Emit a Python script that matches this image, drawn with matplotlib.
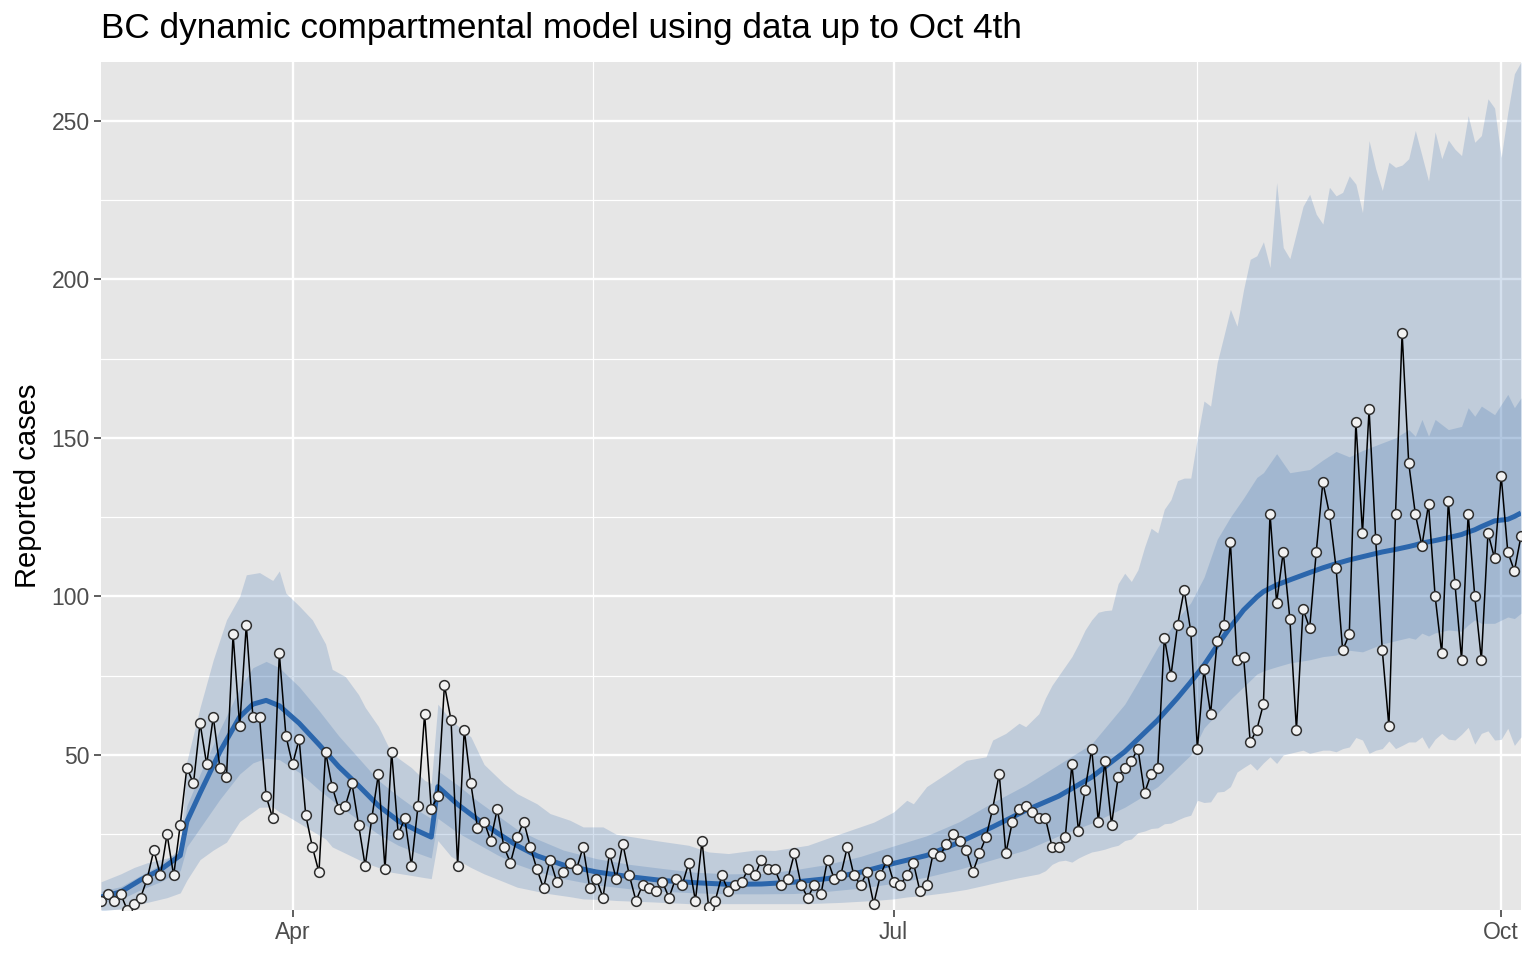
import numpy as np
import pandas as pd
import matplotlib
matplotlib.use('Agg')
import matplotlib.pyplot as plt
import matplotlib.dates as mdates

plt.rcParams['font.family'] = ['Liberation Sans', 'DejaVu Sans']

start = pd.Timestamp('2020-03-03')

# daily reported cases from Mar 3 to Oct 4
cases = [4, 6, 4, 6, 1, 3, 5, 11, 20, 12, 25, 12, 28, 46, 41, 60, 47, 62, 46, 43,
         88, 59, 91, 62, 62, 37, 30, 82, 56, 47, 55, 31, 21, 13, 51, 40, 33, 34, 41, 28,
         15, 30, 44, 14, 51, 25, 30, 15, 34, 63, 33, 37,
         72, 61, 15, 58, 41, 27, 29, 23, 33, 21, 16, 24, 29, 21, 14, 8, 17, 10, 13, 16,
         14, 21, 8, 11, 5, 19, 11, 22, 12, 4, 9, 8, 7, 10, 5, 11, 9, 16, 4, 23,
         2, 4, 12, 7, 9, 10, 14, 12, 17,
         14, 14, 9, 11, 19, 9, 5, 9, 6, 17, 11, 12, 21, 12, 9, 13, 3, 12, 17, 10,
         9, 12, 16, 7, 9, 19, 18, 22, 25, 23, 20, 13, 19, 24, 33, 44, 19, 29, 33, 34,
         32, 30, 30, 21, 21, 24, 47, 26,
         39, 52, 29, 48, 28, 43, 46, 48, 52, 38, 44, 46, 87, 75, 91, 102, 89, 52, 77, 63,
         86, 91, 117, 80, 81, 54, 58, 66, 126, 98, 114, 93, 58, 96, 90,
         114, 136, 126, 109, 83, 88, 155, 120, 159, 118, 83, 59, 126, 183, 142, 126, 116, 129, 100, 82,
         130, 104, 80, 126, 100, 80, 120, 112, 138, 114, 108, 119]

# model mean and 50% interval (days since Mar 3)
model_day = [0, 3, 6, 9, 12, 13, 15, 18, 21, 23, 25, 27, 30, 33, 36, 39, 42, 45, 48, 50,
             51, 54, 57, 60, 63, 66, 70, 75, 80, 85, 90, 95, 100, 105, 110, 115, 120, 125, 130, 135,
             140, 145, 150, 155, 157, 160, 163, 165, 167, 169, 171, 173, 175, 176, 178, 180,
             183, 185, 187, 189, 191, 194, 196, 198, 199, 200, 201, 202, 204, 206, 207, 208, 209, 211,
             213, 214, 215]
model_mean = [5.2, 6.8, 10.6, 13.8, 18.3, 29, 38, 51, 62, 66, 67.2, 65.5, 60, 53.3, 46.3, 40.3, 34, 29.2, 26, 24.1,
              40, 34.4, 29.7, 25.4, 21.4, 18.2, 15.3, 13.1, 11.6, 10.4, 9.7, 9.2, 9.3, 9.9, 11, 13, 15.8, 18.3, 22.5, 27.3,
              32.5, 37, 43, 51, 55, 61, 68, 73, 78.3, 84.5, 90.3, 95.7, 99.8, 101.5, 103.6, 105.2,
              107.5, 109, 110.3, 111.5, 112.5, 114, 114.8, 115.7, 116.2, 116.8, 117.2, 117.6, 118.5, 119.5, 120.3, 121, 122, 123.8,
              124.3, 125.2, 126.3]
model_lo50 = [3.5, 4.5, 7.5, 10, 13.5, 21, 27, 36, 44, 47.5, 49, 48.5, 44.5, 39, 34, 29.5, 25, 21.5, 19, 17.5,
              30, 25.5, 22, 18.5, 15.5, 13.3, 11, 9, 7.8, 7, 6.5, 6.2, 6.2, 6.3, 7, 8, 9.5, 11.5, 14, 17,
              20, 24.5, 28.5, 33.5, 36, 40, 46, 50, 58.5, 63, 67.5, 71.5, 75.5, 76.5, 77.8, 79,
              80, 81, 81.5, 83, 82.5, 85, 86, 87, 86.5, 88.4, 87.5, 88.5, 89.4, 89, 91, 92.6, 91.5, 91.5,
              93.5, 93, 94.7]
model_hi50 = [7, 8.5, 12, 15.5, 20.5, 34, 44, 58, 71, 77.5, 79.5, 77.5, 71.5, 64, 56, 49, 42, 37, 32.5, 30,
              45, 40.5, 35.5, 31, 26.5, 23.5, 20, 17.3, 15.5, 14.2, 13, 12.5, 12.6, 13.8, 15.5, 18, 21.3, 24.5, 29, 35,
              40.5, 47, 53.5, 66, 73, 84, 93, 98, 106, 118, 125, 131, 137.5, 139, 145, 139,
              140, 143, 145.7, 144, 146, 148.4, 150, 152.6, 150.5, 155.8, 150.5, 155.8, 152.6, 153.6, 159.5, 156.8, 160, 157.3,
              163.7, 159.5, 162.6]

# 95% interval (days since Mar 3)
outer_day = [0, 3, 5, 7, 10, 12, 13, 15, 17, 19, 21, 22, 24, 26, 27, 28, 30, 32, 34, 35,
             37, 39, 40, 42, 44, 47, 49, 50, 51, 53, 56, 58, 61, 63, 66, 68, 71, 73, 76, 78,
             84, 89, 92, 95, 99, 102, 107, 112, 117, 120, 122, 123, 125, 128, 131, 134, 135, 137, 139, 140,
             142, 143] + list(range(144, 216))
model_hi95 = [10, 12.5, 14.5, 16, 17.5, 19.5, 48, 65, 80, 92.6, 100, 106.8, 107.5, 105, 108, 101, 97, 92.6, 85, 77,
              74.7, 69, 65, 59, 50.5, 46, 42, 41, 66, 61, 55.7, 47, 41, 37.8, 34.6, 31.5, 29.4, 27.3, 27.3, 25,
              23, 21.5, 19.4, 18.9, 20, 19.9, 21.5, 25.2, 28.8, 32, 35.7, 34.6, 40, 44.1, 48.3, 49.4, 54.7, 56.8, 60, 58.9,
              63, 68,
              72, 75, 78, 81, 85, 89.4, 92.6, 95, 95.5, 95.7,
              104, 107.3, 104.7, 108.4, 115.5, 121.5, 120, 127.5, 130.5, 136.5,
              137.3, 137.3, 150, 161.6, 160, 173.7, 182, 190.5, 185.2, 196.8,
              206.3, 207.4, 211.8, 203.7, 230.5, 210, 206.5, 214.7, 223, 226.8,
              220.5, 217.4, 229, 226.3, 227.4, 232.6, 230, 221, 243.7, 234.8,
              228, 236.9, 235.3, 236, 238, 246.9, 239, 231, 246.5, 238,
              243.9, 241, 239, 251.6, 243.2, 245.3, 256.9, 254, 238.4, 252.6,
              264.8, 268.5]
model_lo95 = [0.8, 1.5, 2.5, 3.5, 5, 6.5, 10.5, 17, 20, 22.5, 29, 30.5, 33.5, 33.6, 32, 31, 28.5, 26, 23.5, 21,
              19, 17, 16, 14.5, 13, 12, 11.3, 11, 23, 18, 14.5, 12.5, 10, 8.3, 7, 6.2, 5.3, 4.6, 4.4, 4.1,
              3.6, 3.1, 3.1, 3.1, 3.1, 3.1, 3.1, 3.5, 4.1, 4.6, 5.2, 5.4, 5.8, 6.6, 7.6, 9, 9.5, 10.4, 11.3, 11.7,
              12.5, 13.5,
              15.5, 16.5, 16.8, 16.2, 17.5, 18.5, 19.4, 19.8, 20.3, 21,
              21.5, 23, 23.5, 25.5, 26, 26.8, 27, 28.3, 28.5, 29.5,
              30.4, 31, 35.7, 35, 35.2, 38.3, 38.5, 40, 44.6, 46,
              47.3, 45.2, 47.5, 49.4, 47.3, 50, 50.5, 51, 51.5, 50.5,
              51, 51.5, 51.5, 51, 52, 52.5, 55.5, 54.7, 50.5, 51.5,
              52, 54.4, 52, 53, 54.1, 54.1, 55.7, 52, 55, 56.8,
              55, 54.7, 56.5, 58.7, 53.4, 56.8, 57.6, 54.7, 54.9, 58.4,
              53, 55.7]

y_ticks = [50, 100, 150, 200, 250]
x_ticks = ['2020-04-01', '2020-07-01', '2020-10-01']
x_tick_labels = ['Apr', 'Jul', 'Oct']
x_minor = ['2020-05-16 12:00', '2020-08-16 00:00']

case_dates = start + pd.to_timedelta(np.arange(len(cases)), unit='D')
model_dates = start + pd.to_timedelta(model_day, unit='D')
outer_dates = start + pd.to_timedelta(outer_day, unit='D')

band_col = '#2C66AC'
fig = plt.figure(figsize=(15.36, 9.6), dpi=100)
ax = fig.add_axes([101 / 1536, 1 - 910 / 960, 1420 / 1536, 848.3 / 960])
ax.set_facecolor('#E6E6E6')

ax.fill_between(outer_dates, model_lo95, model_hi95, color=band_col, alpha=0.2, lw=0)
ax.fill_between(model_dates, model_lo50, model_hi50, color=band_col, alpha=0.2, lw=0)
ax.plot(model_dates, model_mean, color='#2B66AC', lw=3.6, solid_capstyle='butt')
ax.plot(case_dates, cases, color='black', lw=1.1, marker='o', ms=7,
        mfc='#F2F2F2', mec='#2E2E2E', mew=1.1)

ax.set_xlim(case_dates[0], case_dates[-1])
ax.set_ylim(1.1, 268.6)

ax.set_yticks(y_ticks)
ax.set_yticks([25, 75, 125, 175, 225], minor=True)
ax.set_xticks([mdates.date2num(pd.Timestamp(d)) for d in x_ticks])
ax.set_xticklabels(x_tick_labels)
ax.set_xticks([mdates.date2num(pd.Timestamp(d)) for d in x_minor], minor=True)

ax.set_axisbelow(True)
ax.grid(which='major', color='white', lw=1.7)
ax.grid(which='minor', color='white', lw=0.85)
for s in ax.spines.values():
    s.set_visible(False)
ax.tick_params(which='major', length=4.8, width=1.1, color='#333333',
               labelsize=16.5, labelcolor='#4D4D4D', pad=3.2)
ax.tick_params(which='minor', length=0)

ax.set_title('BC dynamic compartmental model using data up to Oct 4th',
             loc='left', fontsize=25.3, pad=17)
fig.text(28 / 1536, 1 - 486 / 960, 'Reported cases', rotation=90,
         va='center', ha='center', fontsize=21)

fig.savefig('out.png', dpi=100)
